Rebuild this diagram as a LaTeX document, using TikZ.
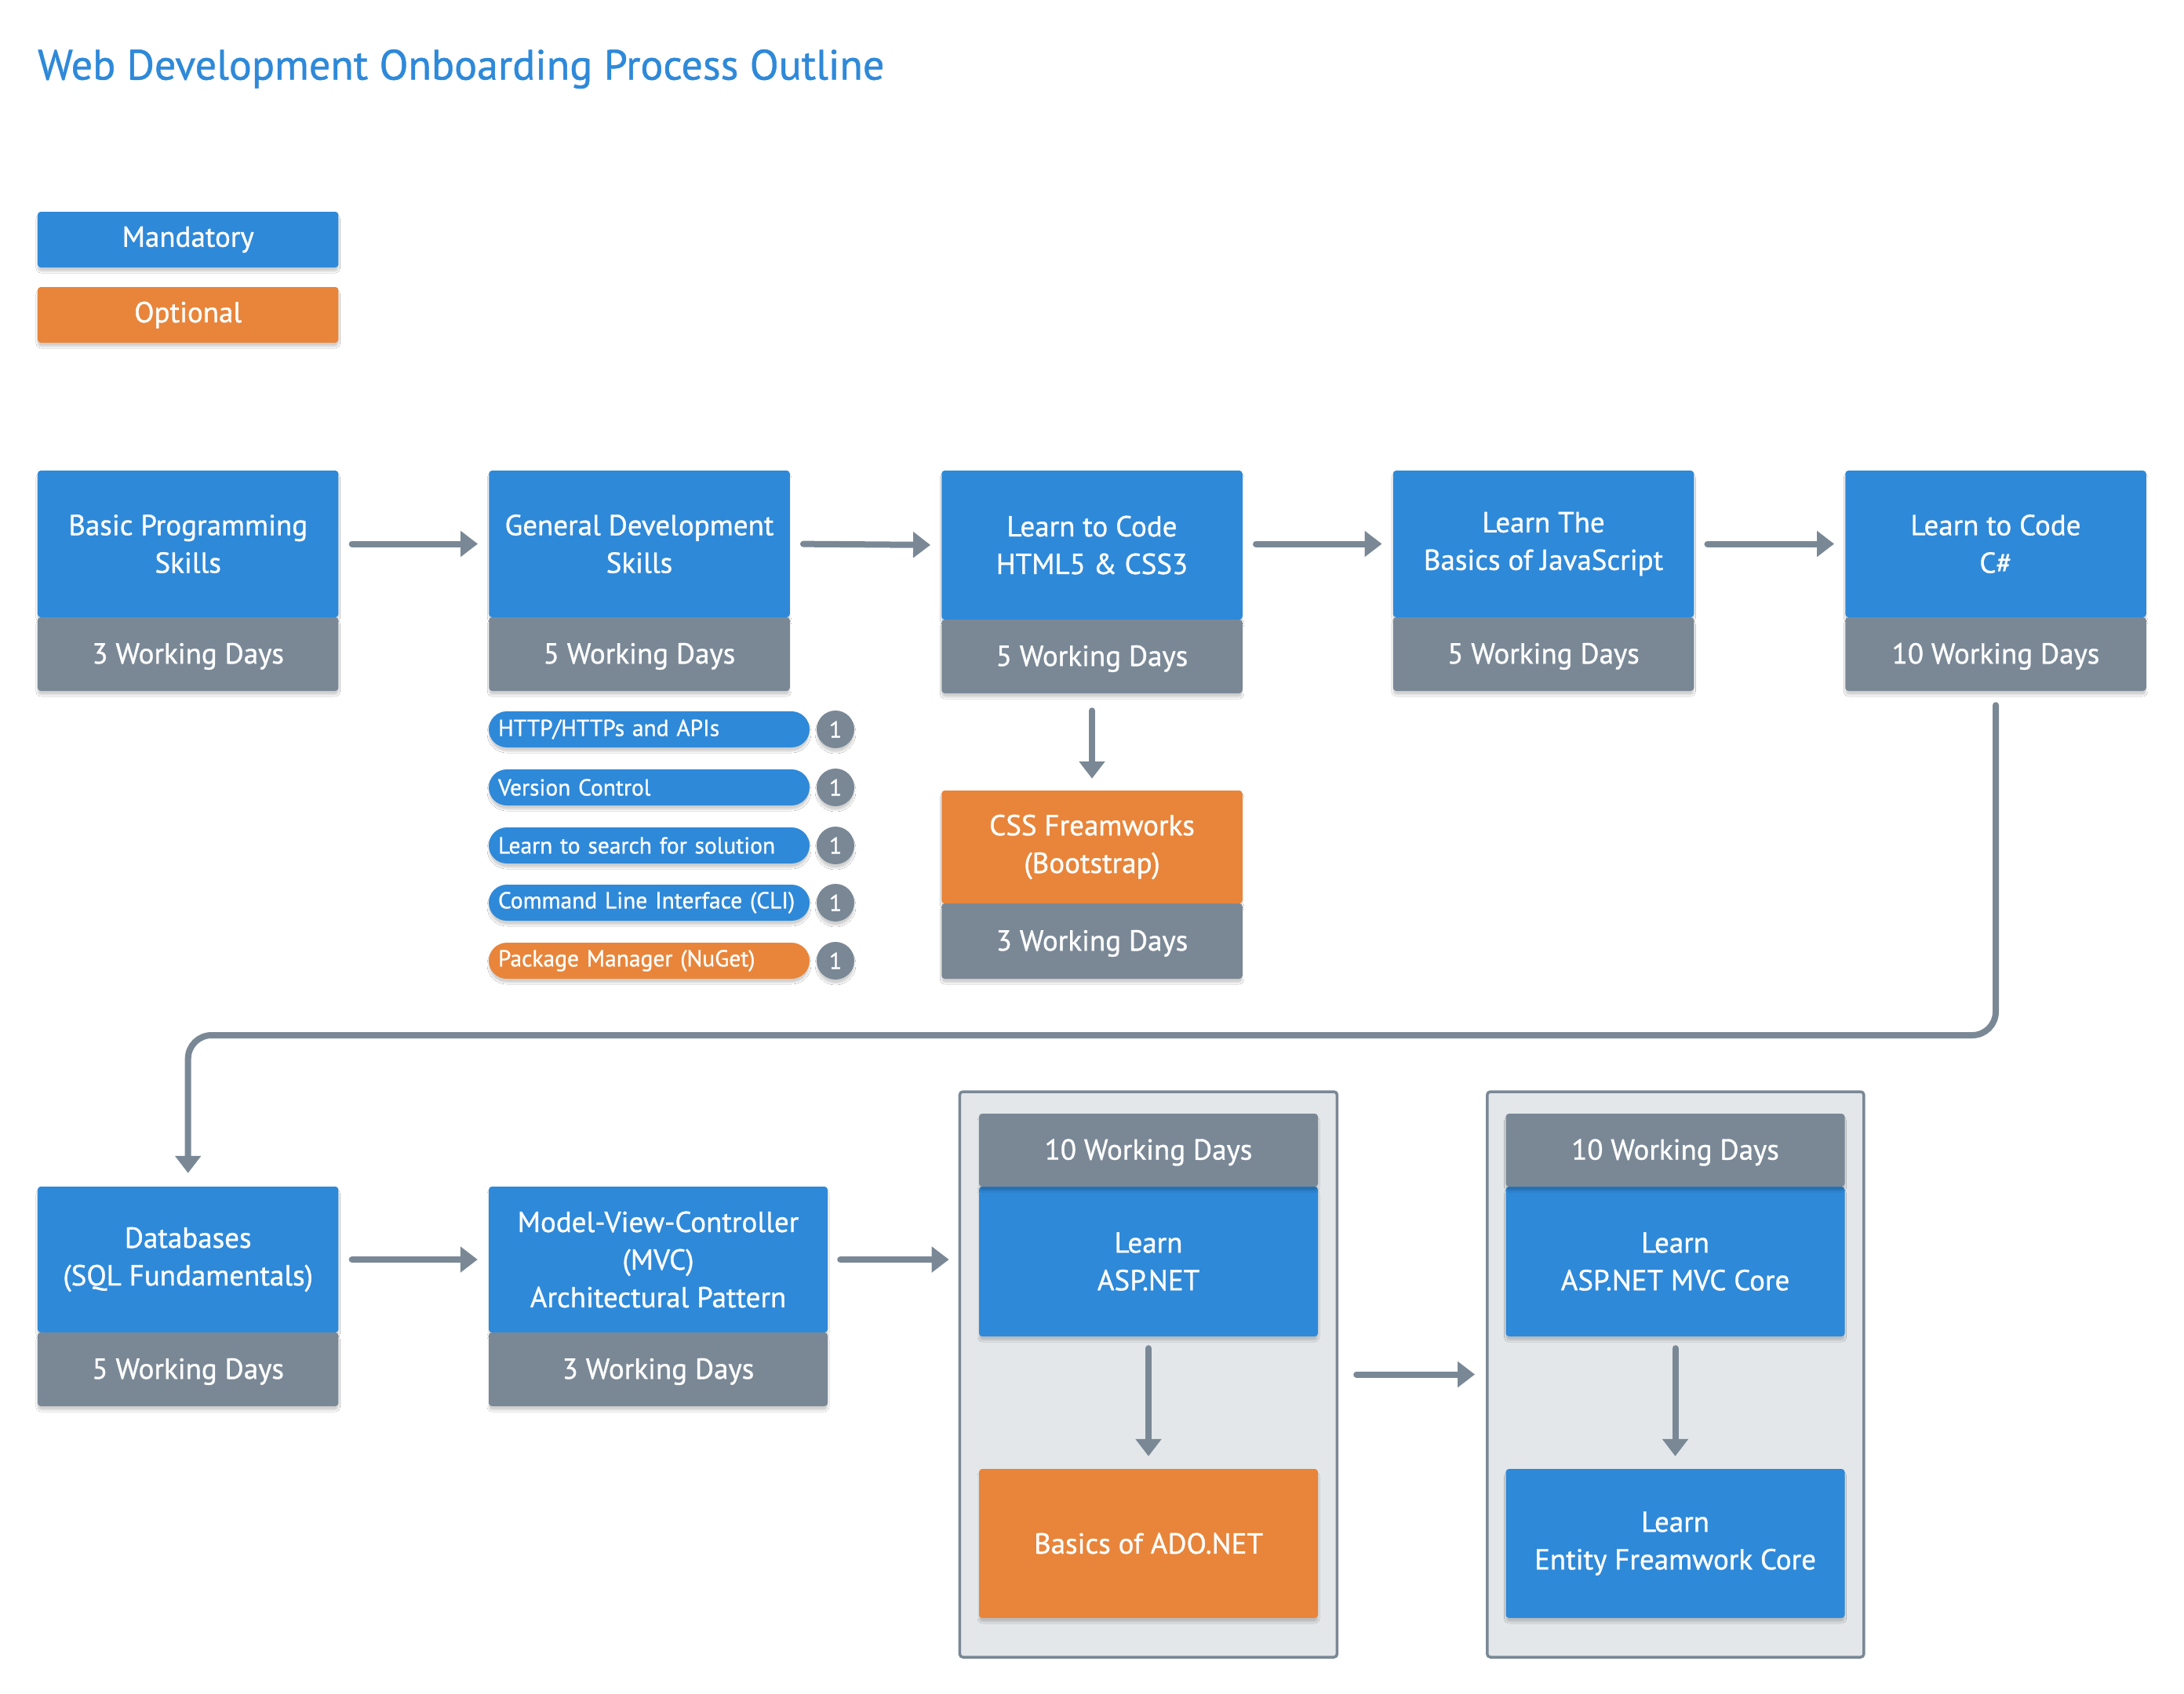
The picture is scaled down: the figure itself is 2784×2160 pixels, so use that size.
\documentclass[tikz,border=0pt]{standalone}
\usepackage{fontspec}
\setmainfont{PT Sans}[BoldFont={PT Sans}, BoldFeatures={FakeBold=0.9}]
\usetikzlibrary{arrows.meta,shadows.blur,calc}
\definecolor{cblue}{HTML}{2E89D9}
\definecolor{corange}{HTML}{E8853A}
\definecolor{cgray}{HTML}{7A8896}
\definecolor{cpanel}{HTML}{E3E7EA}
\begin{document}
\begin{tikzpicture}[x=1pt,y=-1pt,
  shad/.style={blur shadow={shadow xshift=0pt, shadow yshift=-5pt, shadow opacity=18, shadow blur steps=6}},
  box/.style={rectangle, rounded corners=4pt, text=white, align=center, inner sep=0pt, font=\bfseries\fontsize{37}{48}\selectfont, shad},
  task/.style={box, fill=cblue, minimum width=383.5pt, minimum height=187pt},
  opt/.style={box, fill=corange, minimum width=383.5pt},
  days/.style={box, fill=cgray, minimum width=383.5pt, minimum height=94pt, text depth=2pt},
  legend/.style={box, minimum width=383.5pt, minimum height=71pt},
  pill/.style={box, rounded corners=23pt, minimum height=46pt, text width=385pt, align=left, inner xsep=12pt, font=\bfseries\fontsize{29.5}{32}\selectfont},
  badge/.style={circle, fill=cgray, text=white, minimum size=48pt, inner sep=0pt, font=\bfseries\fontsize{29.5}{32}\selectfont, shad},
  arr/.style={draw=cgray, line width=8pt, line cap=round, -{Triangle[length=22pt,width=32pt]}},
  panel/.style={draw=cgray, fill=cpanel, line width=3.5pt, rounded corners=4pt}
]
\useasboundingbox[fill=white] (0,0) rectangle (2784,2160);

% title
\node[anchor=west, text=cblue, inner sep=0pt, font=\bfseries\fontsize{54}{60}\selectfont] (title) at (48,88) {Web Development Onboarding Process Outline};

% legend
\node[legend, fill=cblue] (lm) at (239.7,305.5) {Mandatory};
\node[legend, fill=corange] (lo) at (239.7,401.5) {Optional};

% row 1
\node[task] (b1) at (239.7,693.5) {Basic Programming\\Skills};
\node[days] (d1) at (239.7,834) {3 Working Days};
\node[task] (b2) at (815,693.5) {General Development\\Skills};
\node[days] (d2) at (815,834) {5 Working Days};
\node[task, minimum height=190pt] (b3) at (1392,695) {Learn to Code\\HTML5 \& CSS3};
\node[days] (d3) at (1392,837) {5 Working Days};
\node[task] (b4) at (1967.5,693.5) {Learn The\\Basics of JavaScript};
\node[days] (d4) at (1967.5,834) {5 Working Days};
\node[task] (b5) at (2544,693.5) {Learn to Code\\C\#};
\node[days] (d5) at (2544,834) {10 Working Days};

% sub topics
\node[pill, fill=cblue] (s1) at (827.5,930) {HTTP/HTTPs and APIs};
\node[pill, fill=cblue] (s2) at (827.5,1004) {Version Control};
\node[pill, fill=cblue] (s3) at (827.5,1078) {Learn to search for solution};
\node[pill, fill=cblue] (s4) at (827.5,1151) {Command Line Interface (CLI)};
\node[pill, fill=corange] (s5) at (827.5,1225) {Package Manager (NuGet)};
\node[badge] (n1) at (1065,930) {1};
\node[badge] (n2) at (1065,1004) {1};
\node[badge] (n3) at (1065,1078) {1};
\node[badge] (n4) at (1065,1151) {1};
\node[badge] (n5) at (1065,1225) {1};

% CSS frameworks
\node[opt, minimum height=144pt] (css) at (1392,1080) {CSS Freamworks\\(Bootstrap)};
\node[days, minimum height=96pt] (dcss) at (1392,1200) {3 Working Days};

% row 2
\node[task, minimum height=186pt] (b6) at (239.7,1606) {Databases\\(SQL Fundamentals)};
\node[days] (d6) at (239.7,1746) {5 Working Days};
\node[task, minimum height=186pt, minimum width=432pt] (b7) at (839,1606) {Model-View-Controller\\(MVC)\\Architectural Pattern};
\node[days, minimum width=432pt] (d7) at (839,1746) {3 Working Days};

% panels
\node[panel, minimum width=481pt, minimum height=721pt] (p1) at (1463.9,1752.5) {};
\node[panel, minimum width=480pt, minimum height=721pt] (p2) at (2135.8,1752.5) {};

\node[task, minimum width=432pt, minimum height=191pt] (a1) at (1464,1608.5) {Learn\\ASP.NET};
\node[days, minimum width=432pt, minimum height=93pt] (h1) at (1464,1466.5) {10 Working Days};
\node[opt, minimum width=432pt, minimum height=190pt] (ado) at (1464,1968) {Basics of ADO.NET};

\node[task, minimum width=432pt, minimum height=191pt] (a2) at (2135.5,1608.5) {Learn\\ASP.NET MVC Core};
\node[days, minimum width=432pt, minimum height=93pt] (h2) at (2135.5,1466.5) {10 Working Days};
\node[task, minimum width=432pt, minimum height=190pt] (ef) at (2135.5,1968) {Learn\\Entity Freamwork Core};

% connectors
\draw[arr, shorten <=17pt, shorten >=14pt] (b1.east) -- (b2.west);
\draw[arr, shorten <=17pt, shorten >=14pt] (b2.east) -- (b3.west);
\draw[arr, shorten <=17pt, shorten >=14pt] (b3.east |- b4.east) -- (b4.west);
\draw[arr, shorten <=17pt, shorten >=14pt] (b4.east) -- (b5.west);
\draw[arr, shorten <=22pt, shorten >=15pt] (d3.south) -- (css.north);

\coordinate (bend) at (0,1320);
\draw[arr, rounded corners=30pt, shorten <=18pt, shorten >=17pt] (d5.south) -- (d5.south |- bend) -- (b6.north |- bend) -- (b6.north);

\draw[arr, shorten <=17pt, shorten >=14pt] (b6.east) -- (b7.west);
\draw[arr, shorten <=16pt, shorten >=12pt] (b7.east) -- (b7.east -| p1.west);
\draw[arr, shorten <=23pt, shorten >=14pt] (p1.east) -- (p2.west);
\draw[arr, shorten <=15pt, shorten >=16pt] (a1.south) -- (ado.north);
\draw[arr, shorten <=15pt, shorten >=16pt] (a2.south) -- (ef.north);
\end{tikzpicture}
\end{document}
